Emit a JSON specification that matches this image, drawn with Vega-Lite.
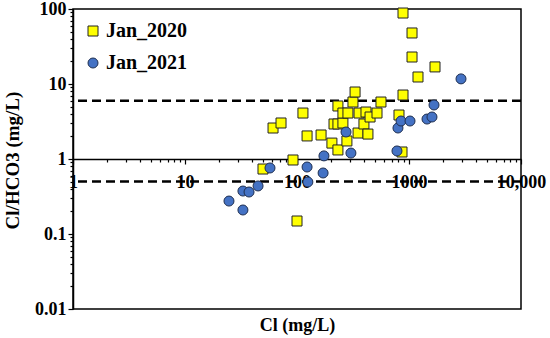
{
  "$schema": "https://vega.github.io/schema/vega-lite/v6.json",
  "width": 448,
  "height": 300,
  "autosize": {"type": "none"},
  "padding": {"left": 73, "top": 9, "right": 29, "bottom": 29},
  "config": {
    "view": {"stroke": "black", "strokeWidth": 1.5},
    "font": "Liberation Serif"
  },
  "layer": [
    {
      "data": {"values": [{"t": 6}, {"t": 0.5}]},
      "mark": {"type": "rule", "strokeDash": [9, 5], "strokeWidth": 2.5, "color": "black"},
      "encoding": {
        "y": {"field": "t", "type": "quantitative", "title": "Cl/HCO3 (mg/L)", "scale": {"type": "log", "domain": [0.01, 100], "nice": false}}
      }
    },
    {
      "data": {
        "values": [
          {"year": "Jan_2020", "cl": 49.7, "ratio": 0.735},
          {"year": "Jan_2020", "cl": 61.1, "ratio": 2.59},
          {"year": "Jan_2020", "cl": 72.0, "ratio": 3.02},
          {"year": "Jan_2020", "cl": 92.1, "ratio": 0.97},
          {"year": "Jan_2020", "cl": 100, "ratio": 0.149},
          {"year": "Jan_2020", "cl": 113, "ratio": 4.10},
          {"year": "Jan_2020", "cl": 123, "ratio": 2.03},
          {"year": "Jan_2020", "cl": 164, "ratio": 2.09},
          {"year": "Jan_2020", "cl": 205, "ratio": 1.63},
          {"year": "Jan_2020", "cl": 232, "ratio": 1.32},
          {"year": "Jan_2020", "cl": 279, "ratio": 1.74},
          {"year": "Jan_2020", "cl": 214, "ratio": 2.93},
          {"year": "Jan_2020", "cl": 232, "ratio": 2.93},
          {"year": "Jan_2020", "cl": 257, "ratio": 3.02},
          {"year": "Jan_2020", "cl": 232, "ratio": 5.09},
          {"year": "Jan_2020", "cl": 257, "ratio": 4.10},
          {"year": "Jan_2020", "cl": 285, "ratio": 4.10},
          {"year": "Jan_2020", "cl": 316, "ratio": 5.75},
          {"year": "Jan_2020", "cl": 330, "ratio": 7.82},
          {"year": "Jan_2020", "cl": 358, "ratio": 4.10},
          {"year": "Jan_2020", "cl": 351, "ratio": 2.22},
          {"year": "Jan_2020", "cl": 396, "ratio": 2.93},
          {"year": "Jan_2020", "cl": 413, "ratio": 4.23},
          {"year": "Jan_2020", "cl": 430, "ratio": 2.15},
          {"year": "Jan_2020", "cl": 449, "ratio": 3.63},
          {"year": "Jan_2020", "cl": 518, "ratio": 4.10},
          {"year": "Jan_2020", "cl": 562, "ratio": 5.75},
          {"year": "Jan_2020", "cl": 814, "ratio": 3.86},
          {"year": "Jan_2020", "cl": 866, "ratio": 1.24},
          {"year": "Jan_2020", "cl": 884, "ratio": 7.13},
          {"year": "Jan_2020", "cl": 1203, "ratio": 12.4},
          {"year": "Jan_2020", "cl": 1064, "ratio": 22.9},
          {"year": "Jan_2020", "cl": 1064, "ratio": 47.9},
          {"year": "Jan_2020", "cl": 884, "ratio": 88.4},
          {"year": "Jan_2020", "cl": 1707, "ratio": 16.9},
          {"year": "Jan_2021", "cl": 24.7, "ratio": 0.275},
          {"year": "Jan_2021", "cl": 32.9, "ratio": 0.209},
          {"year": "Jan_2021", "cl": 32.9, "ratio": 0.374},
          {"year": "Jan_2021", "cl": 37.3, "ratio": 0.363},
          {"year": "Jan_2021", "cl": 44.9, "ratio": 0.437},
          {"year": "Jan_2021", "cl": 57.4, "ratio": 0.759},
          {"year": "Jan_2021", "cl": 123, "ratio": 0.782},
          {"year": "Jan_2021", "cl": 125, "ratio": 0.494},
          {"year": "Jan_2021", "cl": 171, "ratio": 0.651},
          {"year": "Jan_2021", "cl": 174, "ratio": 1.10},
          {"year": "Jan_2021", "cl": 274, "ratio": 2.29},
          {"year": "Jan_2021", "cl": 303, "ratio": 1.20},
          {"year": "Jan_2021", "cl": 781, "ratio": 1.28},
          {"year": "Jan_2021", "cl": 797, "ratio": 2.59},
          {"year": "Jan_2021", "cl": 849, "ratio": 3.21},
          {"year": "Jan_2021", "cl": 1021, "ratio": 3.21},
          {"year": "Jan_2021", "cl": 1448, "ratio": 3.41},
          {"year": "Jan_2021", "cl": 1604, "ratio": 3.63},
          {"year": "Jan_2021", "cl": 1672, "ratio": 5.25},
          {"year": "Jan_2021", "cl": 2913, "ratio": 11.7}
        ]
      },
      "mark": {"type": "point", "filled": true, "opacity": 1, "strokeWidth": 1, "size": 100},
      "encoding": {
        "x": {
          "field": "cl", "type": "quantitative",
          "scale": {"type": "log", "domain": [1, 10000], "nice": false},
          "axis": {
            "title": "Cl (mg/L)",
            "offset": -150,
            "grid": false,
            "values": [1,2,3,4,5,6,7,8,9,10,20,30,40,50,60,70,80,90,100,200,300,400,500,600,700,800,900,1000,2000,3000,4000,5000,6000,7000,8000,9000,10000],
            "labelExpr": "datum.value == 10000 ? '10,000' : (abs(log(datum.value)/LN10 - round(log(datum.value)/LN10)) < 0.001 ? format(datum.value, 'd') : '')",
            "tickSize": {"condition": {"test": "abs(log(datum.value)/LN10 - round(log(datum.value)/LN10)) < 0.001", "value": 5}, "value": 3},
            "tickColor": "black", "tickWidth": 1.2,
            "domainColor": "black", "domainWidth": 1.5,
            "labelFont": "Liberation Serif", "labelFontSize": 18, "labelFontWeight": "bold", "labelColor": "black",
            "labelPadding": 9, "labelFlush": false, "labelOverlap": false,
            "titleFont": "Liberation Serif", "titleFontSize": 18, "titleFontWeight": "bold", "titleColor": "black",
            "titleY": 166, "titleBaseline": "middle"
          }
        },
        "y": {
          "field": "ratio", "type": "quantitative", "title": "Cl/HCO3 (mg/L)",
          "scale": {"type": "log", "domain": [0.01, 100], "nice": false},
          "axis": {
            "grid": false,
            "values": [0.01,0.02,0.03,0.04,0.05,0.06,0.07,0.08,0.09,0.1,0.2,0.3,0.4,0.5,0.6,0.7,0.8,0.9,1,2,3,4,5,6,7,8,9,10,20,30,40,50,60,70,80,90,100],
            "labelExpr": "abs(log(datum.value)/LN10 - round(log(datum.value)/LN10)) < 0.001 ? format(datum.value, '~g') : ''",
            "tickSize": {"condition": {"test": "abs(log(datum.value)/LN10 - round(log(datum.value)/LN10)) < 0.001", "value": 5}, "value": 3},
            "tickColor": "black", "tickWidth": 1.2,
            "domainColor": "black", "domainWidth": 1.5,
            "labelFont": "Liberation Serif", "labelFontSize": 18, "labelFontWeight": "bold", "labelColor": "black",
            "labelPadding": 2, "labelFlush": false, "labelOverlap": false,
            "titleFont": "Liberation Serif", "titleFontSize": 19, "titleFontWeight": "bold", "titleColor": "black",
            "titleX": -55, "titleY": 151, "titleAngle": -90, "titleBaseline": "alphabetic", "titleAlign": "center"
          }
        },
        "fill": {
          "field": "year", "type": "nominal",
          "scale": {"domain": ["Jan_2020", "Jan_2021"], "range": ["#FFFF00", "#4472C4"]},
          "legend": {
            "orient": "none", "legendX": 10, "legendY": 12, "title": null, "padding": 0,
            "labelFont": "Liberation Serif", "labelFontSize": 20, "labelFontWeight": "bold", "labelColor": "black",
            "symbolSize": 100, "symbolStrokeWidth": 1, "rowPadding": 12, "labelOffset": 3
          }
        },
        "stroke": {
          "field": "year", "type": "nominal",
          "scale": {"domain": ["Jan_2020", "Jan_2021"], "range": ["#222222", "#1F2F50"]}
        },
        "shape": {
          "field": "year", "type": "nominal",
          "scale": {"domain": ["Jan_2020", "Jan_2021"], "range": ["square", "circle"]}
        }
      }
    }
  ]
}
